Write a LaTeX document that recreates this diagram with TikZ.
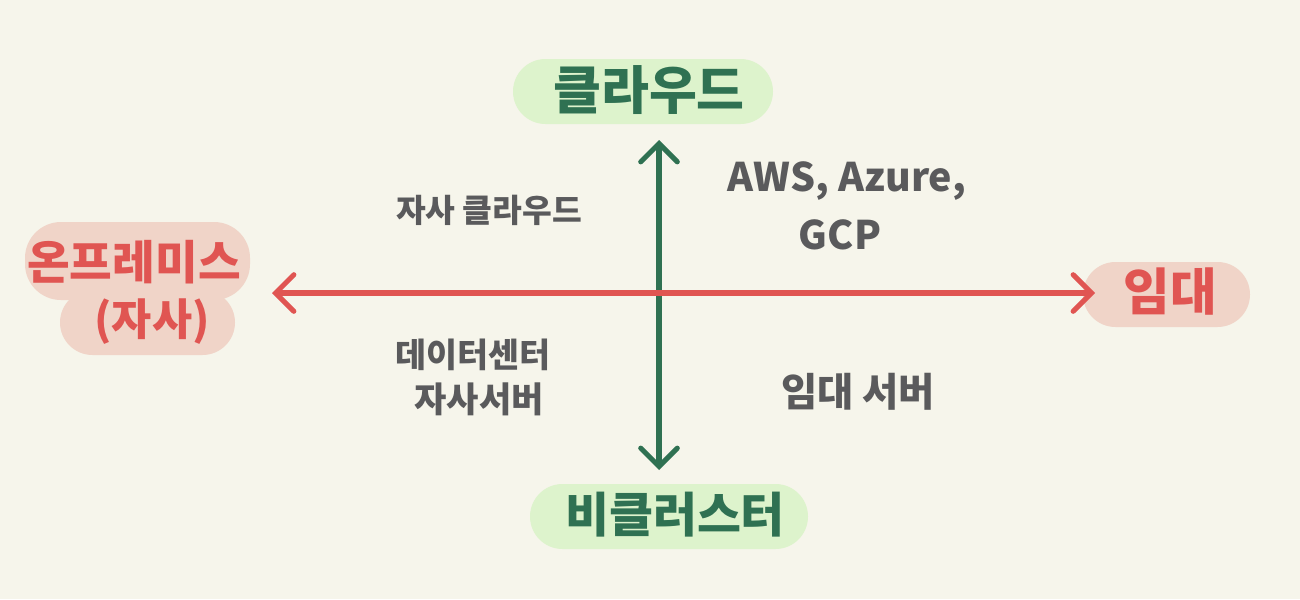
\documentclass[tikz,border=0pt]{standalone}
\usepackage{fontspec}
\setmainfont{Noto Sans CJK KR}
\usetikzlibrary{arrows.meta}
\definecolor{bg}{HTML}{F6F5EB}
\definecolor{greenfill}{HTML}{DDF3CC}
\definecolor{greenink}{HTML}{2F7152}
\definecolor{redfill}{HTML}{F0D4C8}
\definecolor{redink}{HTML}{E05552}
\definecolor{grayink}{HTML}{5A5A5C}
\tikzset{
  pill/.style={rounded corners=32.5*0.025cm, draw=none},
  smalltxt/.style={text=grayink, font=\fontsize{22}{26}\selectfont},
  axis/.style={line width=3.6pt, line cap=round,
    arrows={Straight Barb[length=13pt,width=26pt,line cap=round]-Straight Barb[length=13pt,width=26pt,line cap=round]}},
}
\begin{document}
\begin{tikzpicture}[x=0.025cm,y=-0.025cm]
\fill[bg] (0,0) rectangle (1300,599);
\useasboundingbox (0,0) rectangle (1300,599);
% pills
\fill[greenfill,pill] (513,59) rectangle (773,124);
\fill[greenfill,pill] (530,484) rectangle (808,549);
\fill[redfill,pill] (1083,262) rectangle (1250,327);
\fill[redfill,rounded corners=36*0.025cm] (25,222) rectangle (250,300);
\fill[redfill,pill] (60,290) rectangle (235,355);
% labels
\node[text=greenink, font=\bfseries\fontsize{37}{42}\selectfont] (cloud) at (649,90) {클라우드};
\node[text=greenink, font=\bfseries\fontsize{34}{40}\selectfont] (noncl) at (675,515) {비클러스터};
\node[text=redink, font=\bfseries\fontsize{36}{42}\selectfont] (rent) at (1170,292) {임대};
\node[text=redink, font=\bfseries\fontsize{33}{38}\selectfont] (onprem) at (134,262) {온프레미스};
\node[text=redink, font=\bfseries\fontsize{31}{36}\selectfont] (own) at (152,322) {(자사)};
\node[smalltxt, font=\bfseries\fontsize{23}{27}\selectfont] (owncloud) at (489,210) {자사 클라우드};
\node[smalltxt, font=\bfseries\fontsize{28}{33}\selectfont] (aws) at (847,181) {AWS, Azure,};
\node[smalltxt, font=\bfseries\fontsize{28}{33}\selectfont] (gcp) at (840,235) {GCP};
\node[smalltxt, font=\bfseries\fontsize{24}{28}\selectfont] (dc) at (473,355) {데이터센터};
\node[smalltxt, font=\bfseries\fontsize{25}{29}\selectfont] (srv) at (479,399) {자사서버};
\node[smalltxt, font=\bfseries\fontsize{28}{32}\selectfont] (rsrv) at (858,392) {임대 서버};
% axes
\coordinate (vtop) at (659,140);
\coordinate (vbot) at (659,470);
\coordinate (hleft) at (272,293);
\coordinate (hright) at (1095,293);
\draw[axis, greenink] (vbot) -- (vtop);
\draw[axis, redink] (hleft) -- (hright);
\end{tikzpicture}
\end{document}
